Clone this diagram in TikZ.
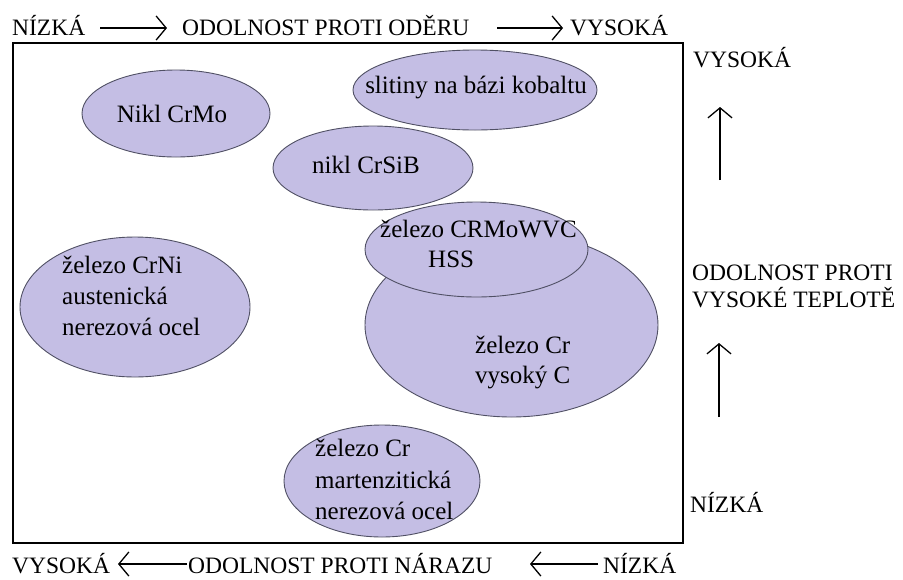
\documentclass[tikz,border=0pt]{standalone}
\usepackage{fontspec}
\setmainfont{Liberation Serif}
\usetikzlibrary{shapes.geometric,arrows.meta}
\definecolor{blobfill}{RGB}{196,190,228}
\definecolor{blobline}{RGB}{80,80,100}
\begin{document}
\begin{tikzpicture}[x=1pt,y=-1pt,
  blob/.style={ellipse, draw=blobline, fill=blobfill, line width=0.9pt, inner sep=0pt},
  head/.style={font=\fontsize{23.5}{28}\selectfont, inner sep=0pt, anchor=base west},
  lab/.style={font=\fontsize{25}{30}\selectfont, inner sep=0pt, anchor=base west},
  arr/.style={-{Straight Barb[length=10pt,width=24pt]}, line width=1.3pt},
  framebox/.style={draw, line width=1.5pt, inner sep=0pt}]
\useasboundingbox (0,0) rectangle (903,579);
\fill[white] (0,0) rectangle (903,579);

% frame
\node[framebox, minimum width=670pt, minimum height=500pt] (frame) at (348,293) {};

% ellipses
\node[blob, minimum width=230pt, minimum height=140pt] (crni) at (135,307) {};
\node[blob, minimum width=188pt, minimum height=87pt] (crmo) at (176,113.5) {};
\node[blob, minimum width=244pt, minimum height=80pt] (cobalt) at (475,90) {};
\node[blob, minimum width=200pt, minimum height=84pt] (crsib) at (373,168) {};
\node[blob, minimum width=293pt, minimum height=184pt] (bigcr) at (511.5,325) {};
\node[blob, minimum width=223pt, minimum height=95pt] (hss) at (476.5,249.5) {};
\node[blob, minimum width=196pt, minimum height=112pt] (mart) at (382,481) {};

% ellipse texts
\node[lab, anchor=base] (crmo-t) at (172,122) {Nikl CrMo};
\node[lab, anchor=base] (cobalt-t) at (476,93) {slitiny na bázi kobaltu};
\node[lab, anchor=base] (crsib-t) at (366,173) {nikl CrSiB};
\node[lab] (hss-t1) at (380,237) {železo CRMoWVC};
\node[lab] (hss-t2) at (428,267) {HSS};
\node[lab] (bigcr-t1) at (475,353) {železo Cr};
\node[lab] (bigcr-t2) at (475,383) {vysoký C};
\node[lab] (crni-t1) at (62,273) {železo CrNi};
\node[lab] (crni-t2) at (62,304) {austenická};
\node[lab] (crni-t3) at (62,335) {nerezová ocel};
\node[lab] (mart-t1) at (315,456) {železo Cr};
\node[lab] (mart-t2) at (315,488) {martenzitická};
\node[lab] (mart-t3) at (315,519) {nerezová ocel};

% top axis
\node[head] (top-low) at (12,35) {NÍZKÁ};
\node[head] (top-name) at (182,35) {ODOLNOST PROTI ODĚRU};
\node[head] (top-high) at (570,35) {VYSOKÁ};
\coordinate (ta1s) at (100,28);
\coordinate (ta1e) at (167,28);
\coordinate (ta2s) at (497,28);
\coordinate (ta2e) at (563,28);
\draw[arr] (ta1s) -- (ta1e);
\draw[arr] (ta2s) -- (ta2e);

% bottom axis
\node[head] (bot-high) at (12,573) {VYSOKÁ};
\node[head] (bot-name) at (188,573) {ODOLNOST PROTI NÁRAZU};
\node[head] (bot-low) at (603,573) {NÍZKÁ};
\coordinate (ba1s) at (187,564);
\coordinate (ba1e) at (118,564);
\coordinate (ba2s) at (598,564);
\coordinate (ba2e) at (530,564);
\draw[arr] (ba1s) -- (ba1e);
\draw[arr] (ba2s) -- (ba2e);

% right axis
\node[head] (r-high) at (693,67) {VYSOKÁ};
\node[head] (r-name1) at (692,280) {ODOLNOST PROTI};
\node[head] (r-name2) at (692,307) {VYSOKÉ TEPLOTĚ};
\node[head] (r-low) at (690,512) {NÍZKÁ};
\coordinate (ra1s) at (720,180);
\coordinate (ra1e) at (720,107);
\coordinate (ra2s) at (719,417);
\coordinate (ra2e) at (719,343);
\draw[arr] (ra1s) -- (ra1e);
\draw[arr] (ra2s) -- (ra2e);
\end{tikzpicture}
\end{document}
